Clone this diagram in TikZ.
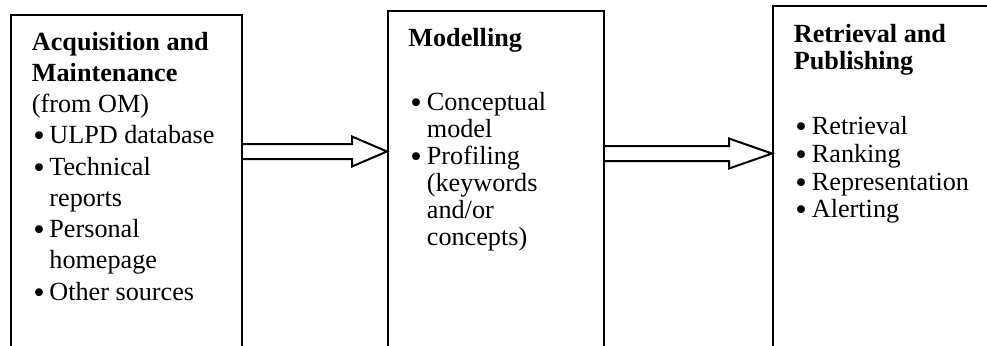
\documentclass[tikz,border=0pt]{standalone}
\usepackage{fontspec}
\usepackage{graphicx}
\setmainfont{Liberation Serif}
\usetikzlibrary{calc}
\tikzset{
  stage/.style={draw, line width=1pt, inner sep=0pt, anchor=north west},
  txt/.style={anchor=base west, inner sep=0pt, font=\fontsize{13.1}{15}\selectfont},
  head/.style={txt, font=\fontsize{13.1}{15}\selectfont\bfseries},
  blockarrow/.style={draw, line width=1pt, line join=miter, fill=white},
}
\newcommand{\bul}{\raisebox{-1.6pt}{\scalebox{1.25}{\textbullet}}}
\begin{document}
\begin{tikzpicture}[x=0.5pt, y=-0.5pt]
  \useasboundingbox (0,0) rectangle (987,345);
  \clip (0,0) rectangle (987,345);

  % the three stage boxes, open towards the bottom edge
  \node[stage, minimum width=115.5pt, minimum height=200pt] (b1) at (10,13.5) {};
  \node[stage, minimum width=108pt, minimum height=200pt] (b2) at (387,10) {};
  \node[stage, minimum width=125pt, minimum height=200pt] (b3) at (772,5) {};

  % hollow block arrows between the stages
  \coordinate (s1) at (b1.east |- 0,151.5);
  \coordinate (t1) at (b2.west |- 0,151.5);
  \coordinate (s2) at (b2.east |- 0,153.5);
  \coordinate (t2) at (b3.west |- 0,153.5);
  \draw[blockarrow] ($(s1)+(0,-7.5)$) -- ($(t1)+(-35,-7.5)$) -- ($(t1)+(-35,-15)$)
    -- (t1) -- ($(t1)+(-35,15)$) -- ($(t1)+(-35,7.5)$) -- ($(s1)+(0,7.5)$);
  \draw[blockarrow] ($(s2)+(0,-7.5)$) -- ($(t2)+(-43,-7.5)$) -- ($(t2)+(-43,-15)$)
    -- (t2) -- ($(t2)+(-43,15)$) -- ($(t2)+(-43,7.5)$) -- ($(s2)+(0,7.5)$);

  % stage 1: acquisition and maintenance
  \node[head] (a1) at (31.5,50) {Acquisition and};
  \node[head] (a2) at (31.5,81.25) {Maintenance};
  \node[txt]  (a3) at (31.5,112.5) {(from OM)};
  \node[txt]  (a4b) at (33,143.75) {\bul};
  \node[txt]  (a4) at (49,143.75) {ULPD database};
  \node[txt]  (a5b) at (33,175) {\bul};
  \node[txt]  (a5) at (49,175) {Technical};
  \node[txt]  (a6) at (49,206.25) {reports};
  \node[txt]  (a7b) at (33,237.5) {\bul};
  \node[txt]  (a7) at (49,237.5) {Personal};
  \node[txt]  (a8) at (49,268.75) {homepage};
  \node[txt]  (a9b) at (33,300) {\bul};
  \node[txt]  (a9) at (49,300) {Other sources};

  % stage 2: modelling
  \node[head] (m1) at (408,46) {Modelling};
  \node[txt]  (m2b) at (410,110) {\bul};
  \node[txt]  (m2) at (426.5,110) {Conceptual};
  \node[txt]  (m3) at (426.5,137) {model};
  \node[txt]  (m4b) at (410,164) {\bul};
  \node[txt]  (m4) at (426.5,164) {Profiling};
  \node[txt]  (m5) at (426.5,191) {(keywords};
  \node[txt]  (m6) at (426.5,218) {and/or};
  \node[txt]  (m7) at (426.5,245) {concepts)};

  % stage 3: retrieval and publishing
  \node[head] (r1) at (793.5,42) {Retrieval and};
  \node[head] (r2) at (793.5,69) {Publishing};
  \node[txt]  (r3b) at (795,134) {\bul};
  \node[txt]  (r3) at (811.5,134) {Retrieval};
  \node[txt]  (r4b) at (795,162) {\bul};
  \node[txt]  (r4) at (811.5,162) {Ranking};
  \node[txt]  (r5b) at (795,190) {\bul};
  \node[txt]  (r5) at (811.5,190) {Representation};
  \node[txt]  (r6b) at (795,217) {\bul};
  \node[txt]  (r6) at (811.5,217) {Alerting};
\end{tikzpicture}
\end{document}
